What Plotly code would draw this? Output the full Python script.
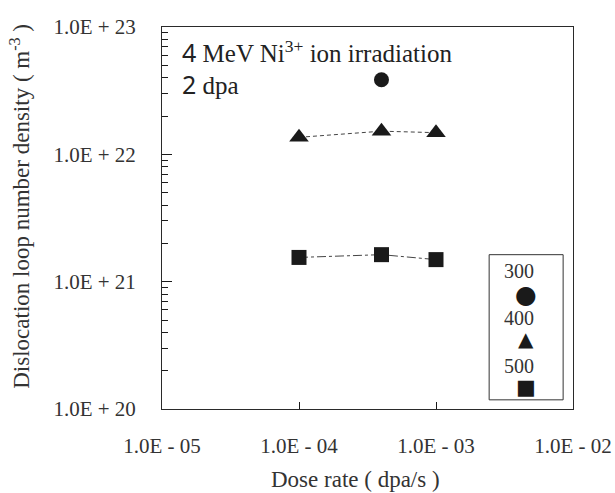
import plotly.graph_objects as go

# ---- data ----
dose_rate_300 = [4e-4]
density_300 = [3.85e22]
dose_rate_400 = [1e-4, 4e-4, 1e-3]
density_400 = [1.36e22, 1.52e22, 1.48e22]
dose_rate_500 = [1e-4, 4e-4, 1e-3]
density_500 = [1.55e21, 1.63e21, 1.49e21]

x_tickvals = [1e-5, 1e-4, 1e-3, 1e-2]
x_ticktext = ["1.0E - 05", "1.0E - 04", "1.0E - 03", "1.0E - 02"]
y_tickvals = [1e20, 1e21, 1e22, 1e23]
y_ticktext = ["1.0E + 20", "1.0E + 21", "1.0E + 22", "1.0E + 23"]
legend_labels = ["300", "400", "500"]
legend_symbols = ["●", "▲", "■"]
x_title = "Dose rate ( dpa/s )"
y_title = "Dislocation loop number density ( m<sup>-3</sup> )"

# all y ticks (majors + minors 2..9 of each decade); labels only on majors
PAD = "\u00a0" * 4  # gap between the labels and the axis line
y_all_vals = [k * 10.0 ** e for e in (20, 21, 22) for k in range(1, 10)] + [1e23]
y_all_text = [y_ticktext[y_tickvals.index(v)] + PAD if v in y_tickvals else "" for v in y_all_vals]

SERIF = "Liberation Serif"
SANS = "Noto Sans"
INK = "#1a1a1a"
AX = "#1a1a1a"

fig = go.Figure()
fig.add_trace(go.Scatter(x=dose_rate_400, y=density_400, mode="lines+markers",
                         line=dict(color="#444", width=1, dash="4px,3px"),
                         marker=dict(symbol="triangle-up", size=17, color=INK),
                         showlegend=False))
fig.add_trace(go.Scatter(x=dose_rate_500, y=density_500, mode="lines+markers",
                         line=dict(color="#444", width=1, dash="dashdot"),
                         marker=dict(symbol="square", size=15, color=INK),
                         showlegend=False))
fig.add_trace(go.Scatter(x=dose_rate_300, y=density_300, mode="markers",
                         marker=dict(symbol="circle", size=15, color=INK),
                         showlegend=False))
# invisible trace that activates the overlay axis carrying the long major ticks
fig.add_trace(go.Scatter(x=dose_rate_400, y=density_400, yaxis="y2", mode="markers",
                         marker=dict(opacity=0), hoverinfo="skip", showlegend=False))

fig.update_layout(
    xaxis=dict(type="log", range=[-5, -2], tickvals=x_tickvals, ticktext=x_ticktext,
               ticks="inside", ticklen=7, tickwidth=1, tickcolor=AX, showline=True,
               linecolor="#2a2a2a", linewidth=1, mirror=True, showgrid=False, zeroline=False,
               ticklabelstandoff=18, automargin=False,
               tickfont=dict(family=SERIF, size=21, color="#333")),
    yaxis=dict(type="log", range=[20, 23], tickvals=y_all_vals, ticktext=y_all_text,
               ticks="inside", ticklen=6, tickwidth=1, tickcolor=AX, showline=True,
               linecolor="#2a2a2a", linewidth=1, mirror=True, showgrid=False, zeroline=False,
               automargin=False,
               tickfont=dict(family=SERIF, size=21, color="#333")),
    yaxis2=dict(type="log", range=[20, 23], overlaying="y", side="left", anchor="x",
                tickvals=y_tickvals, ticks="inside", ticklen=10, tickwidth=1, tickcolor=AX,
                showticklabels=False, showline=False, showgrid=False, zeroline=False,
                automargin=False),
)

annotations = [
    dict(x=0.043, y=0.935, xref="paper", yref="paper", xanchor="left", yanchor="middle",
         showarrow=False,
         text=f"<span style='font-family:{SANS}'>4</span> MeV Ni<sup>3+</sup> ion irradiation",
         font=dict(family=SERIF, size=25, color="#222")),
    dict(x=0.043, y=0.85, xref="paper", yref="paper", xanchor="left", yanchor="middle",
         showarrow=False, text=f"<span style='font-family:{SANS}'>2</span> dpa",
         font=dict(family=SERIF, size=25, color="#222")),
    dict(x=0.472, y=-0.184, xref="paper", yref="paper", xanchor="center", yanchor="middle",
         showarrow=False, text=x_title, font=dict(family=SERIF, size=23, color="#333")),
    dict(x=-0.345, y=0.53, xref="paper", yref="paper", xanchor="center", yanchor="middle",
         showarrow=False, textangle=-90, text=y_title,
         font=dict(family=SERIF, size=23, color="#333")),
]
label_y = [0.36, 0.237, 0.113]
sym_y = [0.299, 0.182, 0.058]
sym_size = [25, 20, 21]
for lab, sym, ly, sy, ss in zip(legend_labels, legend_symbols, label_y, sym_y, sym_size):
    annotations.append(dict(x=0.828, y=ly, xref="paper", yref="paper", xanchor="left",
                            yanchor="middle", showarrow=False, text=lab,
                            font=dict(family=SERIF, size=20, color="#333")))
    annotations.append(dict(x=0.885, y=sy, xref="paper", yref="paper", xanchor="center",
                            yanchor="middle", showarrow=False, text=sym,
                            font=dict(family="DejaVu Sans", size=ss, color=INK)))

fig.update_layout(
    width=615, height=493,
    margin=dict(l=162, r=42, t=27, b=84),
    paper_bgcolor="white", plot_bgcolor="white",
    annotations=annotations,
    shapes=[dict(type="rect", xref="paper", yref="paper", x0=0.796, x1=0.976, y0=0.024, y1=0.404,
                 line=dict(color="#333", width=1))],
)
fig.write_html("out.html")
